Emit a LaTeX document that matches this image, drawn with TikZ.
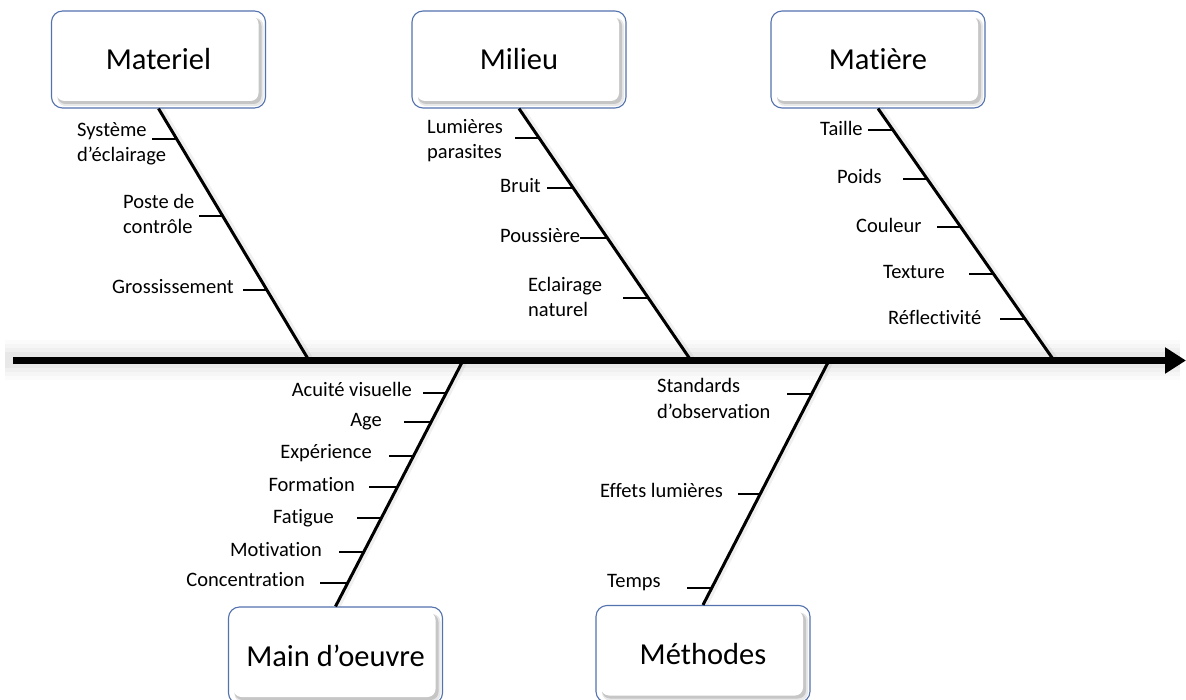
\documentclass[tikz,border=0pt]{standalone}
\usepackage{fontspec}
\setmainfont{Carlito}[RawFeature={-liga}]
\usetikzlibrary{arrows.meta,calc}
\definecolor{boxblue}{RGB}{84,114,174}
\newcommand\fishrib[4]{\draw[ribline] (#3,#4) -- (intersection cs: first line={(#1)--(#2)}, second line={(#3,#4)--(#3+50,#4)});}
\begin{document}
\begin{tikzpicture}[x=1pt,y=-1pt,
  catbox/.style={draw=boxblue, line width=1.1pt, fill=white, rounded corners=11pt,
    minimum width=214pt, minimum height=97pt, inner sep=0pt,
    font=\fontsize{30.5}{36}\selectfont,
    path picture={
      \fill[gray!18, rounded corners=8pt] ([xshift=6pt,yshift=2pt]path picture bounding box.south west) rectangle ([xshift=-2pt,yshift=-7pt]path picture bounding box.north east);
      \fill[gray!45, rounded corners=8pt] ([xshift=6pt,yshift=4pt]path picture bounding box.south west) rectangle ([xshift=-4pt,yshift=-7pt]path picture bounding box.north east);
      \fill[white, rounded corners=8pt] ([xshift=5pt,yshift=7pt]path picture bounding box.south west) rectangle ([xshift=-7pt,yshift=-5pt]path picture bounding box.north east);
    }},
  lbl/.style={inner sep=0pt, font=\fontsize{20.5}{25}\selectfont},
  spine/.style={line width=3pt, black},
  spineshadow/.style={line width=6pt, gray, opacity=0.12},
  ribline/.style={line width=1.6pt, black},
  mainaxis/.style={line width=7pt, black, -{Triangle[length=21pt,width=25pt]}}
]
\useasboundingbox (0,0) rectangle (1186,700);

% main axis glow
\coordinate (axL) at (13,360.5);
\coordinate (axR) at (1186,360.5);
\foreach \w/\o in {40/0.03, 32/0.04, 24/0.05, 16/0.07} {
  \draw[line width=\w pt, gray, opacity=\o] (5,360.5) -- (1180,360.5);
}

% category boxes
\node[catbox] (mat) at (158.5,59.5) {Materiel};
\node[catbox] (mil) at (519,59.5) {Milieu};
\node[catbox] (mti) at (878,59.5) {Matière};
\node[catbox] (mo) at (335.5,655.5) {Main d’oeuvre};
\node[catbox] (me) at (703,654) {Méthodes};

% spine end points on the axis
\coordinate (a1) at (309,360.5);
\coordinate (a2) at (691,360.5);
\coordinate (a3) at (1054,360.5);
\coordinate (a4) at (463,360.5);
\coordinate (a5) at (829,360.5);

% spine shadows
\draw[spineshadow] ([xshift=2pt]mat.south) -- ([xshift=2pt]a1);
\draw[spineshadow] ([xshift=2pt]mil.south) -- ([xshift=2pt]a2);
\draw[spineshadow] ([xshift=2pt]mti.south) -- ([xshift=2pt]a3);
\draw[spineshadow] ([xshift=2pt]mo.north) -- ([xshift=2pt]a4);
\draw[spineshadow] ([xshift=2pt]me.north) -- ([xshift=2pt]a5);

% spines
\draw[spine] (mat.south) -- (a1);
\draw[spine] (mil.south) -- (a2);
\draw[spine] (mti.south) -- (a3);
\draw[spine] (mo.north) -- (a4);
\draw[spine] (me.north) -- (a5);

% main axis
\draw[mainaxis] (axL) -- (axR);

% Materiel
\node[lbl, anchor=base west] (m1a) at (77,137) {Système};
\node[lbl, anchor=base west] (m1b) at (77,162) {d’éclairage};
\node[lbl, anchor=base west] (m2a) at (123,209) {Poste de};
\node[lbl, anchor=base west] (m2b) at (123,234) {contrôle};
\node[lbl, anchor=base west] (m3) at (112,294) {Grossissement};
\fishrib{mat.south}{a1}{152}{139}
\fishrib{mat.south}{a1}{199}{216}
\fishrib{mat.south}{a1}{243}{290}

% Milieu
\node[lbl, anchor=base west] (e1a) at (427,134) {Lumières};
\node[lbl, anchor=base west] (e1b) at (427,159) {parasites};
\node[lbl, anchor=base west] (e2) at (500,193) {Bruit};
\node[lbl, anchor=base west] (e3) at (500,243) {Poussière};
\node[lbl, anchor=base west] (e4a) at (528,292) {Eclairage};
\node[lbl, anchor=base west] (e4b) at (528,317) {naturel};
\fishrib{mil.south}{a2}{515}{138}
\fishrib{mil.south}{a2}{547}{188}
\fishrib{mil.south}{a2}{580}{238}
\fishrib{mil.south}{a2}{623}{298}

% Matiere
\node[lbl, anchor=base west] (t1) at (820,136) {Taille};
\node[lbl, anchor=base west] (t2) at (837,184) {Poids};
\node[lbl, anchor=base west] (t3) at (856,233) {Couleur};
\node[lbl, anchor=base west] (t4) at (883,279) {Texture};
\node[lbl, anchor=base west] (t5) at (888,325) {Réflectivité};
\fishrib{mti.south}{a3}{868}{130}
\fishrib{mti.south}{a3}{903}{179}
\fishrib{mti.south}{a3}{937}{227}
\fishrib{mti.south}{a3}{969}{274}
\fishrib{mti.south}{a3}{1000}{319}

% Main d'oeuvre
\node[lbl, anchor=base east] (o1) at (412,396) {Acuité visuelle};
\node[lbl, anchor=base east] (o2) at (382,426) {Age};
\node[lbl, anchor=base east] (o3) at (372,458) {Expérience};
\node[lbl, anchor=base east] (o4) at (355,491) {Formation};
\node[lbl, anchor=base east] (o5) at (334,523) {Fatigue};
\node[lbl, anchor=base east] (o6) at (322,556) {Motivation};
\node[lbl, anchor=base east] (o7) at (305,586) {Concentration};
\fishrib{mo.north}{a4}{423}{393}
\fishrib{mo.north}{a4}{404}{422}
\fishrib{mo.north}{a4}{389}{456}
\fishrib{mo.north}{a4}{369}{487}
\fishrib{mo.north}{a4}{357}{518}
\fishrib{mo.north}{a4}{339}{552}
\fishrib{mo.north}{a4}{320}{583}

% Methodes
\node[lbl, anchor=base west] (h1a) at (657,393) {Standards};
\node[lbl, anchor=base west] (h1b) at (657,418) {d’observation};
\node[lbl, anchor=base west] (h2) at (600,497) {Effets lumières};
\node[lbl, anchor=base west] (h3) at (607,587) {Temps};
\fishrib{me.north}{a5}{787}{394}
\fishrib{me.north}{a5}{738}{494}
\fishrib{me.north}{a5}{687}{588}
\end{tikzpicture}
\end{document}
